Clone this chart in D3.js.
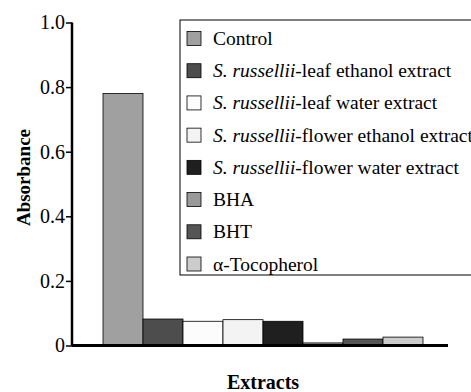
<!DOCTYPE html>
<html><head><meta charset="utf-8">
<script src="https://cdn.jsdelivr.net/npm/d3@7"></script>
<style>body{margin:0;background:#fff}svg{display:block}
svg text, svg tspan{font-family:"Liberation Serif",Tinos,"Nimbus Roman","Times New Roman",serif !important;}</style>
</head><body>
<script>
const categories = ["Control","S. russellii-leaf ethanol extract","S. russellii-leaf water extract","S. russellii-flower ethanol extract","S. russellii-flower water extract","BHA","BHT","α-Tocopherol"];
const italicPrefix = [false,true,true,true,true,false,false,false];
const values = [0.78,0.082,0.075,0.08,0.075,0.008,0.02,0.026];
const colors = ["#a0a0a0","#4d4d4d","#fcfcfc","#f3f3f3","#1f1f1f","#9a9a9a","#555555","#cccccc"];
const yTicks = [0,0.2,0.4,0.6,0.8,1.0];

const FF="'Liberation Serif', Tinos, 'Nimbus Roman', 'Times New Roman', serif";
const W=471,H=392;
const svg=d3.select("body").append("svg").attr("width",W).attr("height",H)
  .style("font-family",FF);
const y=d3.scaleLinear().domain([0,1]).range([345.5,22.5]);
const x=d3.scaleBand().domain(d3.range(categories.length)).range([103,423]).padding(0);

// bars
svg.append("g").selectAll("rect").data(values).join("rect")
  .attr("x",(d,i)=>x(i)).attr("width",x.bandwidth())
  .attr("y",d=>y(d)).attr("height",d=>y(0)-y(d))
  .attr("fill",(d,i)=>colors[i]).attr("stroke","#000").attr("stroke-width",0.8);

// baseline
svg.append("line").attr("x1",72).attr("x2",448).attr("y1",y(0)).attr("y2",y(0))
  .attr("stroke","#000").attr("stroke-width",3);

// y axis
const ya=svg.append("g").attr("transform","translate(72,0)")
  .call(d3.axisLeft(y).tickValues(yTicks).tickSize(6).tickPadding(1)
    .tickFormat(d=>d===0?"0":d3.format(".1f")(d)));
ya.attr("font-family",null).style("font-family",FF);
ya.select(".domain").attr("stroke-width",2.5).attr("d",`M0,${y(1)}V${y(0)}`);
ya.selectAll(".tick line").attr("stroke-width",1.5);
ya.selectAll(".tick text").style("font-family",FF).attr("font-size",20).attr("fill","#000");

// axis labels
svg.append("text").attr("transform",`translate(30,177.5) rotate(-90)`)
  .attr("text-anchor","middle").style("font-family",FF).attr("font-weight","bold")
  .attr("font-size",19).text("Absorbance");
svg.append("text").attr("x",263).attr("y",389).attr("text-anchor","middle")
  .style("font-family",FF).attr("font-weight","bold").attr("font-size",20).text("Extracts");

// legend
const lg=svg.append("g");
lg.append("rect").attr("x",180).attr("y",20).attr("width",300).attr("height",255)
  .attr("fill","#fff").attr("stroke","#000").attr("stroke-width",1);
const rowY=d3.scaleLinear().domain([0,7]).range([38.5,264]);
const items=lg.selectAll("g.it").data(categories).join("g").attr("class","it")
  .attr("transform",(d,i)=>`translate(0,${rowY(i)})`);
items.append("rect").attr("x",187).attr("y",-7).attr("width",14).attr("height",14)
  .attr("fill",(d,i)=>colors[i]).attr("stroke","#000").attr("stroke-width",0.8);
items.each(function(d,i){
  const t=d3.select(this).append("text").attr("x",213).attr("y",6.5)
    .style("font-family",FF).attr("font-size",19.5).attr("fill","#000");
  if(italicPrefix[i]){
    const k=d.indexOf("-");
    t.append("tspan").attr("font-style","italic").text(d.slice(0,k));
    t.append("tspan").text(d.slice(k));
  } else t.text(d);
});
</script>
</body></html>
